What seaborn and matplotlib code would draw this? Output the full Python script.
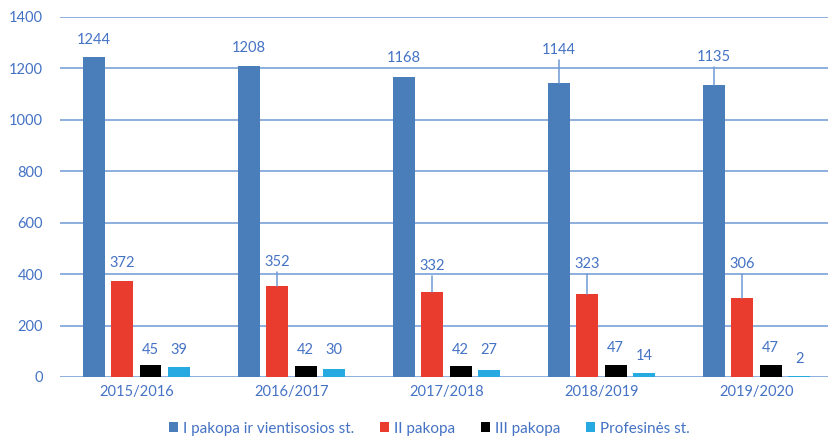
import matplotlib
matplotlib.use("Agg")
import matplotlib.pyplot as plt
import seaborn as sns
import pandas as pd
from matplotlib.patches import Patch

# data
years = ["2015/2016", "2016/2017", "2017/2018", "2018/2019", "2019/2020"]
series = ["I pakopa ir vientisosios st.", "II pakopa", "III pakopa", "Profesinės st."]
pakopa_1 = [1244, 1208, 1168, 1144, 1135]
pakopa_2 = [372, 352, 332, 323, 306]
pakopa_3 = [45, 42, 42, 47, 47]
profesines = [39, 30, 27, 14, 2]

# where the value labels sit above the bars (data units)
label_lift = [
    [67, 72, 73, 128, 110],
    [71, 95, 100, 117, 134],
    [60, 63, 63, 66, 66],
    [66, 75, 78, 68, 68],
]

colors = ["#4a7ebb", "#ea3b2f", "#000000", "#27a9e1"]
text_blue = "#4472c4"
grid_blue = "#6f98d3"

values = [pakopa_1, pakopa_2, pakopa_3, profesines]
df = pd.DataFrame({
    "year": [y for _ in series for y in years],
    "series": [s for s in series for _ in years],
    "value": [v for vals in values for v in vals],
})

sns.set_theme(style="white")
plt.rcParams["font.family"] = ["Lato", "DejaVu Sans"]

fig = plt.figure(figsize=(8.29, 4.44), dpi=100)
ax = fig.add_axes([0.072, 0.151, 0.928, 0.811])

sns.barplot(data=df, x="year", y="value", hue="series", hue_order=series,
            palette=colors, width=0.735, gap=0.23, ax=ax, legend=False,
            saturation=1, edgecolor="none")

ax.set_ylim(0, 1400)
ax.set_xlim(-0.494, 4.468)
ax.set_yticks(range(0, 1401, 200))
ax.yaxis.grid(True, color=grid_blue, linewidth=1.1)
ax.set_axisbelow(True)
for s in ax.spines.values():
    s.set_visible(False)
ax.tick_params(axis="both", length=0, labelsize=10.5, colors=text_blue, pad=6)
ax.tick_params(axis="y", pad=12)
ax.set_xlabel("")
ax.set_ylabel("")

# value labels, with leader lines where the label floats high
for si, cont in enumerate(ax.containers):
    for yi, bar in enumerate(cont):
        v = values[si][yi]
        x = bar.get_x() + bar.get_width() / 2
        ly = v + label_lift[si][yi]
        ax.text(x, ly, str(v), ha="center", va="center", fontsize=10.5,
                color=text_blue)
        if label_lift[si][yi] > 85:
            ax.plot([x, x], [v, ly - 40], color=grid_blue, linewidth=1.1)

handles = [Patch(facecolor=c, edgecolor="none") for c in colors]
leg = fig.legend(handles, series, loc="lower center", bbox_to_anchor=(0.518, -0.012),
                 ncol=4, frameon=False, fontsize=11, handlelength=0.6,
                 handleheight=0.6, handletextpad=0.3, columnspacing=1.7)
for t in leg.get_texts():
    t.set_color(text_blue)

fig.savefig("out.png", dpi=100)
